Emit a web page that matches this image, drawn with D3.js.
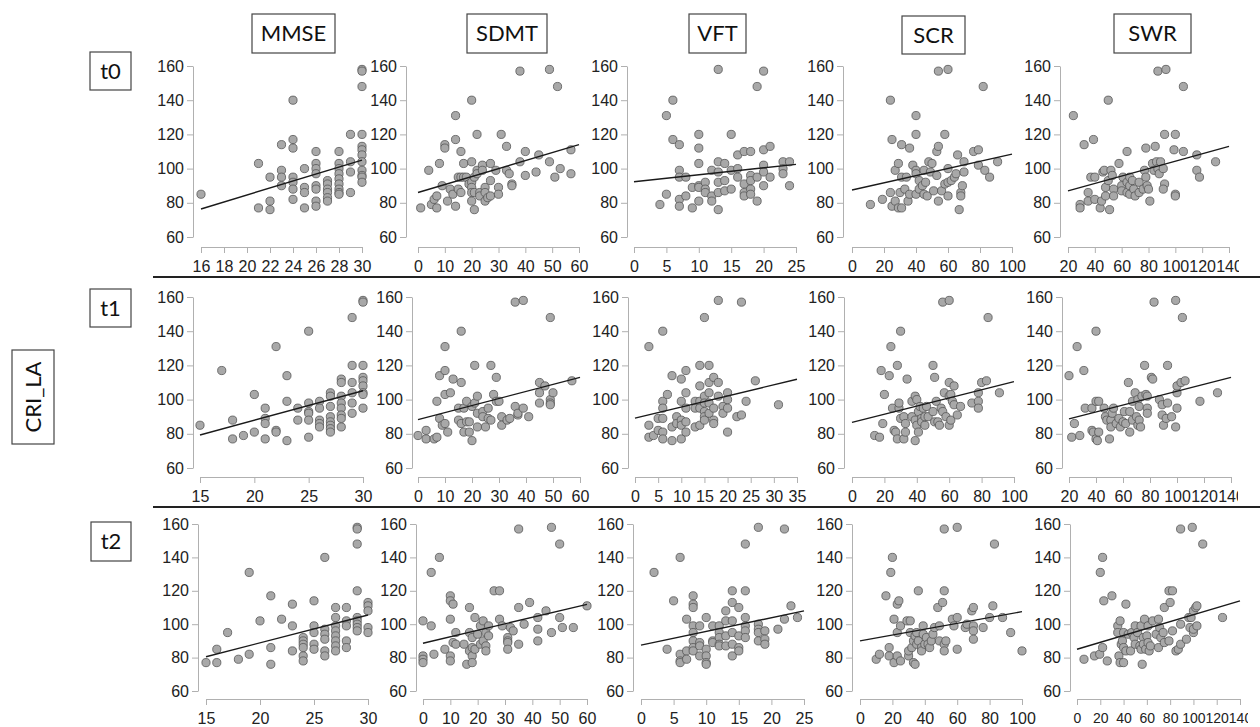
<!DOCTYPE html>
<html><head><meta charset="utf-8">
<script src="https://cdn.jsdelivr.net/npm/d3@7"></script>
<style>body{margin:0;background:#fff}svg{display:block}</style>
</head><body><svg id="c" width="1260" height="727"></svg>
<script>
// ---------- data ----------
const measures = ["MMSE","SDMT","VFT","SCR","SWR"];
const times = ["t0","t1","t2"];
const yLabel = "CRI_LA";
const yTicks = [60,80,100,120,140,160];

const xTicks_t0 = [[16,18,20,22,24,26,28,30],[0,10,20,30,40,50,60],[0,5,10,15,20,25],[0,20,40,60,80,100],[20,40,60,80,100,120,140]];
const xTicks_t1 = [[15,20,25,30],[0,10,20,30,40,50,60],[0,5,10,15,20,25,30,35],[0,20,40,60,80,100],[20,40,60,80,100,120,140]];
const xTicks_t2 = [[15,20,25,30],[0,10,20,30,40,50,60],[0,5,10,15,20,25],[0,20,40,60,80,100],[0,20,40,60,80,100,120,140]];

// regression lines [x0, y0, x1, y1]
const fit_t0 = [[16,76.4,30,105],[0,86,60,114],[0,92.3,25,102.5],[0,87.5,100,108.5],[20,87,140,113]];
const fit_t1 = [[15,79.3,30,105.2],[0,88.3,60,113],[0,89.2,35,111.9],[0,86.7,100,110.5],[20,88.7,140,113]];
const fit_t2 = [[15,80.5,30,105.5],[0,88.6,60,111.9],[0,87.5,25,108],[0,90,100,107.5],[0,85,140,114]];

const mmse_t0 = [[16,85],[21,103],[21,77],[22,95],[22,81],[22,76],[23,114],[23,99],[23,95],[23,90],[24,140],[24,117],[24,112],[24,95],[24,92],[24,88],[24,82],[25,100],[25,89],[25,86],[25,77],[26,110],[26,103],[26,100],[26,97],[26,90],[26,88],[26,81],[26,78],[27,93],[27,91],[27,88],[27,86],[27,83],[27,81],[28,110],[28,103],[28,100],[28,97],[28,94],[28,91],[28,88],[28,86],[28,85],[29,120],[29,104],[29,98],[29,86],[30,158],[30,157],[30,148],[30,120],[30,113],[30,111],[30,108],[30,104],[30,99],[30,96],[30,95],[30,92]];
const sdmt_t0 = [[1,77],[4,99],[5,79],[6,82],[7,84],[7,77],[8,103],[9,90],[10,114],[10,112],[11,81],[12,88],[13,85],[14,131],[14,117],[14,78],[15,95],[15,88],[16,110],[16,95],[16,86],[17,103],[17,95],[18,95],[19,91],[20,140],[20,104],[20,92],[20,89],[20,86],[20,81],[21,76],[21,95],[21,86],[22,120],[22,99],[22,97],[23,86],[23,84],[24,102],[24,99],[25,89],[25,86],[25,81],[26,83],[27,103],[27,93],[27,84],[29,99],[30,89],[30,85],[31,120],[33,113],[33,99],[34,97],[35,91],[35,90],[38,104],[38,157],[40,110],[40,96],[45,108],[44,98],[49,158],[49,104],[52,148],[51,95],[53,100],[57,111],[57,97]];
const vft_t0 = [[4,79],[5,131],[5,85],[6,140],[6,117],[7,114],[7,99],[7,95],[7,82],[7,78],[8,95],[8,84],[9,89],[9,77],[10,120],[10,112],[10,103],[10,90],[10,89],[10,81],[11,92],[11,88],[11,86],[12,99],[12,84],[12,81],[13,158],[13,104],[13,98],[13,92],[13,86],[13,76],[14,103],[14,93],[14,87],[15,120],[15,99],[15,88],[16,108],[16,100],[16,95],[17,110],[17,91],[17,86],[17,84],[18,110],[18,96],[18,93],[18,88],[18,85],[19,148],[19,95],[19,81],[20,157],[20,111],[20,102],[20,98],[20,90],[21,113],[21,95],[23,104],[23,100],[23,97],[24,104],[24,90]];
const scr_t0 = [[11.5,79],[19,82],[24,140],[25,117],[24,86],[25,78],[27,99],[27,81],[29,103],[29,77],[30,86],[31,114],[31,95],[31,77],[33,88],[34,95],[35,81],[36,112],[36,85],[38,102],[40,99],[40,131],[40,120],[40,97],[40,85],[42,93],[42,88],[44,90],[45,99],[45,85],[46,92],[47,84],[48,104],[49,98],[50,103],[51,87],[53,96],[53,110],[54,113],[54,157],[54,81],[56,87],[58,91],[58,120],[60,158],[60,100],[60,92],[60,84],[62,93],[64,95],[65,97],[66,108],[67,76],[68,86],[68,84],[69,90],[70,104],[70,98],[76,110],[79,111],[79,102],[83,99],[82,148],[86,95],[91,104]];
const swr_t0 = [[24,131],[29,79],[29,77],[32,114],[35,86],[35,81],[37,95],[39,117],[40,95],[40,82],[44,77],[45,81],[46,98],[47,99],[48,84],[48,89],[50,140],[50,93],[51,76],[52,99],[53,96],[54,88],[54,84],[58,103],[60,90],[60,87],[61,95],[64,110],[64,92],[64,86],[66,95],[66,90],[66,85],[68,93],[69,88],[70,84],[73,92],[73,86],[76,88],[77,99],[78,95],[78,112],[79,90],[80,88],[81,81],[83,103],[84,99],[85,113],[86,104],[87,100],[87,157],[88,97],[89,104],[91,100],[92,120],[92,91],[91,88],[93,158],[100,120],[99,111],[100,85],[100,84],[106,148],[106,110],[116,108],[116,99],[118,95],[130,104]];

const mmse_t1 = [[15,85],[17,117],[18,88],[18,77],[19,79],[20,103],[20,81],[21,95],[21,89],[21,86],[21,77],[22,131],[22,82],[22,81],[23,114],[23,99],[23,76],[24,95],[24,88],[25,140],[25,98],[25,93],[25,92],[25,88],[25,78],[26,99],[26,95],[26,88],[26,86],[26,84],[27,104],[27,102],[27,96],[27,90],[27,87],[27,85],[27,83],[27,81],[28,112],[28,110],[28,102],[28,98],[28,95],[28,91],[28,89],[28,84],[29,148],[29,120],[29,110],[29,104],[29,98],[29,92],[30,158],[30,157],[30,120],[30,113],[30,111],[30,108],[30,104],[30,103],[30,95]];
const sdmt_t1 = [[0,79],[3,82],[3,77],[6,77],[7,78],[7,99],[8,114],[8,89],[9,85],[10,86],[10,103],[10,131],[10,117],[11,81],[12,104],[13,112],[15,95],[15,88],[16,140],[16,110],[16,86],[17,81],[17,95],[18,99],[18,87],[19,81],[19,87],[20,76],[20,96],[21,120],[21,98],[22,102],[22,84],[22,92],[24,93],[24,90],[25,84],[26,95],[26,89],[27,120],[27,88],[28,103],[29,113],[29,99],[30,99],[31,90],[31,85],[33,88],[34,89],[36,96],[36,157],[37,91],[37,92],[39,158],[39,95],[41,90],[45,110],[45,104],[45,98],[47,108],[49,148],[49,100],[49,98],[49,97],[50,104],[57,111]];
const vft_t1 = [[3,131],[3,85],[3,78],[4,79],[5,89],[5,82],[6,140],[6,99],[6,95],[6,89],[6,81],[6,77],[7,103],[8,114],[8,84],[8,76],[9,90],[9,86],[10,112],[10,99],[10,88],[10,85],[10,77],[11,117],[11,104],[11,95],[11,87],[11,81],[13,99],[13,95],[13,84],[14,120],[14,108],[14,99],[14,95],[14,85],[15,148],[15,102],[15,98],[15,93],[15,90],[15,88],[16,120],[16,110],[16,104],[16,98],[16,92],[17,113],[17,95],[17,88],[17,86],[18,158],[18,110],[18,102],[19,96],[19,92],[20,104],[20,100],[20,95],[20,81],[22,90],[23,157],[23,91],[24,99],[26,111],[31,97]];
const scr_t1 = [[14,79],[17,78],[18,117],[19,86],[20,103],[24,131],[23,114],[25,95],[26,82],[27,81],[28,120],[28,77],[29,95],[29,98],[30,89],[30,140],[32,90],[32,77],[33,86],[33,81],[34,112],[37,99],[37,90],[39,102],[39,76],[39,88],[40,100],[40,85],[41,81],[41,93],[42,96],[43,89],[43,87],[44,95],[45,85],[45,90],[46,96],[47,90],[50,120],[50,93],[51,113],[51,87],[52,99],[53,87],[54,85],[55,95],[56,157],[56,93],[57,104],[58,90],[60,158],[60,110],[60,85],[60,102],[61,103],[61,88],[62,99],[63,108],[63,97],[65,91],[67,96],[74,98],[78,104],[78,99],[78,95],[80,110],[83,111],[84,148],[91,104]];
const swr_t1 = [[20,114],[22,78],[24,86],[26,131],[28,79],[31,117],[32,95],[37,95],[37,82],[38,81],[40,140],[40,99],[40,77],[41,76],[42,81],[42,99],[46,95],[47,90],[48,88],[50,77],[51,88],[51,84],[52,92],[53,95],[55,86],[57,89],[58,84],[60,87],[61,93],[62,86],[64,110],[65,93],[65,81],[67,99],[67,88],[69,104],[70,90],[71,100],[71,85],[72,96],[72,88],[73,84],[74,102],[76,120],[77,103],[78,102],[78,95],[78,92],[81,113],[82,112],[83,157],[87,100],[89,97],[89,91],[90,85],[92,89],[93,120],[93,98],[96,90],[99,158],[99,84],[100,95],[100,104],[100,108],[103,110],[104,148],[106,111],[117,99],[130,104]];

const mmse_t2 = [[15,77],[16,85],[16,77],[17,95],[18,79],[19,131],[19,82],[20,102],[21,117],[21,86],[21,76],[22,103],[23,112],[23,99],[23,84],[24,92],[24,90],[24,88],[24,86],[24,81],[24,78],[25,114],[25,99],[25,95],[25,88],[25,85],[26,140],[26,97],[26,94],[26,91],[26,84],[26,81],[27,110],[27,104],[27,99],[27,96],[27,93],[27,90],[27,87],[27,84],[28,110],[28,102],[28,99],[28,90],[28,86],[29,158],[29,157],[29,148],[29,120],[29,104],[29,102],[29,100],[29,98],[29,96],[30,113],[30,111],[30,108],[30,98],[30,95]];
const sdmt_t2 = [[0,102],[0,81],[0,79],[0,77],[3,131],[3,99],[4,82],[6,140],[8,85],[10,117],[10,114],[10,103],[10,81],[10,78],[11,112],[11,89],[12,95],[12,88],[15,88],[16,76],[17,110],[17,95],[17,84],[18,92],[18,86],[18,81],[18,77],[19,104],[19,85],[20,94],[21,88],[21,99],[22,102],[22,90],[23,95],[23,87],[23,84],[24,99],[24,93],[26,120],[28,120],[28,103],[29,99],[31,92],[31,90],[31,89],[31,85],[32,98],[33,96],[35,157],[35,110],[35,88],[37,100],[39,113],[42,104],[42,97],[42,90],[45,108],[47,158],[47,95],[50,148],[50,104],[51,98],[55,98],[60,111]];
const vft_t2 = [[2,131],[4,85],[5,114],[6,140],[6,82],[6,78],[6,77],[7,103],[7,84],[7,79],[8,117],[8,112],[8,110],[8,99],[8,95],[8,90],[8,86],[8,84],[9,99],[9,89],[9,87],[9,81],[10,104],[10,85],[10,81],[10,77],[10,76],[11,99],[11,90],[11,89],[12,99],[12,95],[12,92],[12,88],[12,87],[13,108],[13,102],[13,93],[13,87],[14,120],[14,113],[14,102],[14,95],[14,88],[14,81],[15,110],[15,93],[15,86],[15,84],[16,148],[16,120],[16,104],[16,99],[16,96],[16,92],[18,158],[18,100],[18,97],[18,95],[18,90],[19,96],[19,91],[19,88],[21,97],[22,157],[22,103],[23,111],[24,104]];
const scr_t2 = [[10,79],[12,82],[16,117],[18,86],[19,131],[20,140],[18,81],[21,77],[21,103],[23,112],[23,95],[23,81],[24,114],[25,99],[25,78],[29,102],[30,81],[30,84],[31,102],[31,95],[32,86],[33,77],[33,90],[34,76],[34,93],[35,95],[35,88],[36,120],[36,90],[38,86],[38,84],[39,99],[39,94],[40,88],[41,92],[42,88],[43,86],[44,90],[45,94],[46,98],[48,110],[49,99],[49,90],[51,113],[52,157],[52,120],[52,88],[52,84],[53,90],[57,103],[58,99],[60,158],[60,104],[60,85],[65,98],[66,100],[69,108],[70,110],[70,99],[70,96],[70,91],[76,98],[80,104],[82,111],[83,148],[88,104],[93,95],[100,84]];
const swr_t2 = [[6,79],[15,81],[19.5,82],[20,131],[22,140],[22,86],[23,114],[26,78],[30,117],[35,99],[35,95],[36,81],[37,77],[37,102],[38,88],[39,90],[40,95],[40,77],[40,86],[42,112],[42,84],[44,94],[46,84],[47,95],[49,92],[50,99],[50,88],[52,95],[54,87],[55,99],[55,85],[56,76],[57,92],[57,88],[58,103],[59,85],[60,93],[61,99],[61,89],[62,84],[63,87],[65,102],[68,94],[70,103],[70,86],[71,98],[72,92],[74,95],[75,110],[75,89],[79,120],[80,113],[82,120],[79,90],[82,96],[85,84],[87,85],[89,157],[89,100],[89,88],[94,91],[96,104],[97,98],[98,104],[99,158],[100,95],[100,97],[100,108],[102,110],[103,111],[103,99],[108,148],[125,104]];

// ---------- assembly ----------
const rowsData = [
  {ticks: xTicks_t0, fits: fit_t0, pts: [mmse_t0, sdmt_t0, vft_t0, scr_t0, swr_t0]},
  {ticks: xTicks_t1, fits: fit_t1, pts: [mmse_t1, sdmt_t1, vft_t1, scr_t1, swr_t1]},
  {ticks: xTicks_t2, fits: fit_t2, pts: [mmse_t2, sdmt_t2, vft_t2, scr_t2, swr_t2]}
];

// layout (pixels)
const layout = [
  {yTop:66, yBot:237, xAxisY:247, axisX:[193,406,627,843,1060], x0:[201,418,634,852,1068], x1:[362,579,796,1012,1229], clipR:1239, box:[90,52,41,38]},
  {yTop:297, yBot:468, xAxisY:477, axisX:[193,412,628,844,1062], x0:[200,418,635,852,1069], x1:[363,580,797,1014,1231], clipR:1238, box:[90,289,41,38]},
  {yTop:524, yBot:691, xAxisY:699, axisX:[198,416,633,852,1070], x0:[206,423,641,860,1077], x1:[368,587,804,1022,1240], clipR:1248, box:[91,522,40,39]}
];
const headerBoxes = [[252,14,83,39],[467,14,80,39],[689,14,57,39],[902,16,63,38],[1114,14,77,39]];

const svg = d3.select("#c");
const tickFont = "'Liberation Sans', Arial, sans-serif";
const boxFont = "Lato, 'Open Sans', sans-serif";

// header boxes
measures.forEach((m, i) => {
  const b = headerBoxes[i];
  svg.append("rect").attr("x", b[0]).attr("y", b[1]).attr("width", b[2]).attr("height", b[3])
    .attr("fill", "#fff").attr("stroke", "#444").attr("stroke-width", 1.2);
  svg.append("text").attr("x", b[0] + b[2]/2).attr("y", b[1] + b[3]/2).attr("dy", "0.36em")
    .attr("text-anchor", "middle").attr("font-family", boxFont).attr("font-size", 22)
    .attr("fill", "#111").text(m);
});

// CRI_LA box
svg.append("rect").attr("x", 12).attr("y", 350).attr("width", 42).attr("height", 94)
  .attr("fill", "#fff").attr("stroke", "#444").attr("stroke-width", 1.2);
svg.append("text").attr("transform", "translate(33,397) rotate(-90)").attr("dy", "0.36em")
  .attr("text-anchor", "middle").attr("font-family", boxFont).attr("font-size", 22)
  .attr("fill", "#111").text(yLabel);

// separators
[277, 507].forEach(yy => {
  svg.append("line").attr("x1", 153).attr("x2", 1260).attr("y1", yy).attr("y2", yy)
    .attr("stroke", "#222").attr("stroke-width", 2);
});

const defs = svg.append("defs");

rowsData.forEach((row, r) => {
  const L = layout[r];
  // row label
  const b = L.box;
  svg.append("rect").attr("x", b[0]).attr("y", b[1]).attr("width", b[2]).attr("height", b[3])
    .attr("fill", "#fff").attr("stroke", "#444").attr("stroke-width", 1.2);
  svg.append("text").attr("x", b[0] + b[2]/2).attr("y", b[1] + b[3]/2).attr("dy", "0.36em")
    .attr("text-anchor", "middle").attr("font-family", boxFont).attr("font-size", 22)
    .attr("fill", "#111").text(times[r]);

  defs.append("clipPath").attr("id", "clipR" + r).append("rect")
    .attr("x", 0).attr("y", 0).attr("width", L.clipR).attr("height", 727);

  const y = d3.scaleLinear().domain([60, 160]).range([L.yBot, L.yTop]);

  measures.forEach((m, c) => {
    const ticks = row.ticks[c];
    const x = d3.scaleLinear().domain([ticks[0], ticks[ticks.length - 1]]).range([L.x0[c], L.x1[c]]);
    // crowded axis with 3-digit labels gets a slightly smaller font
    const step = (L.x1[c] - L.x0[c]) / (ticks.length - 1);
    const maxDigits = String(d3.max(ticks)).length;
    const xFont = (maxDigits >= 3 && step < 25) ? 14 : 16;

    // y axis
    const ya = svg.append("g").attr("transform", `translate(${L.axisX[c]},0)`)
      .call(d3.axisLeft(y).tickValues(yTicks).tickSize(6).tickSizeOuter(0).tickPadding(3));
    ya.selectAll(".tick text").attr("font-size", 16);
    // x axis
    const outer = svg.append("g");
    if (c === 4) outer.attr("clip-path", `url(#clipR${r})`);
    const xa = outer.append("g").attr("transform", `translate(0,${L.xAxisY})`)
      .call(d3.axisBottom(x).tickValues(ticks).tickFormat(d3.format("d")).tickSize(6).tickSizeOuter(0).tickPadding(8));
    xa.selectAll(".tick text").attr("font-size", xFont);
    [ya, xa].forEach(g => {
      g.selectAll("path.domain").attr("stroke", "#b0b0b0").attr("stroke-width", 1);
      g.selectAll(".tick line").attr("stroke", "#b0b0b0").attr("stroke-width", 1);
      g.selectAll(".tick text").attr("font-family", tickFont).attr("fill", "#222");
    });

    // points
    svg.append("g").selectAll("circle").data(row.pts[c]).join("circle")
      .attr("cx", d => x(d[0])).attr("cy", d => y(d[1])).attr("r", 4.1)
      .attr("fill", "#a8a8a8").attr("stroke", "#555").attr("stroke-width", 0.8);

    // regression line
    const f = row.fits[c];
    svg.append("line").attr("x1", x(f[0])).attr("y1", y(f[1])).attr("x2", x(f[2])).attr("y2", y(f[3]))
      .attr("stroke", "#1a1a1a").attr("stroke-width", 1.4);
  });
});
</script>
</body></html>
